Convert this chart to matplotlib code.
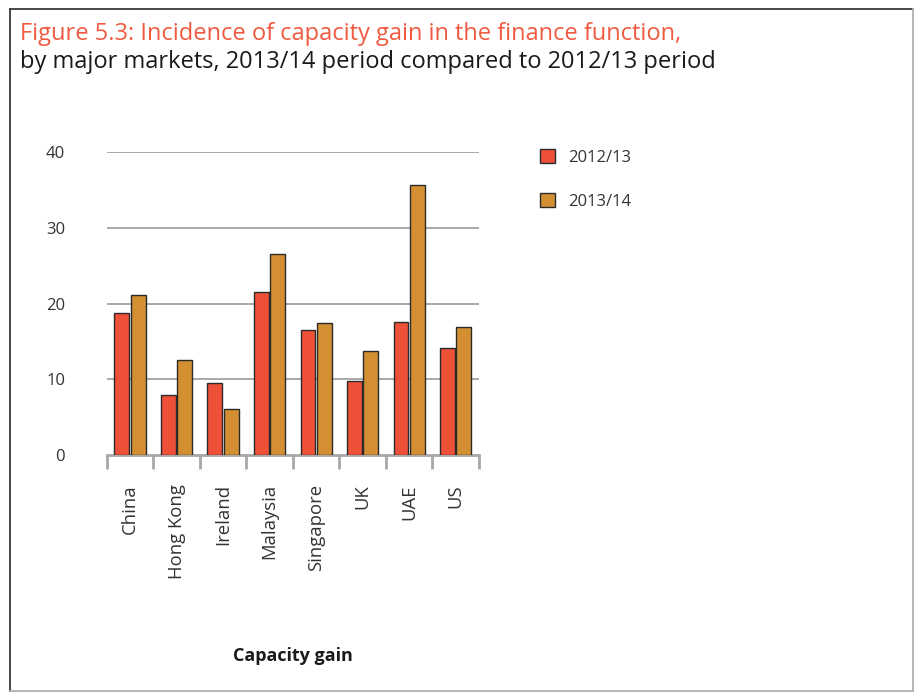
import matplotlib
matplotlib.use("Agg")
import matplotlib.pyplot as plt
import numpy as np
from matplotlib.lines import Line2D

plt.rcParams['font.family'] = ['Open Sans', 'DejaVu Sans']

markets = ["China", "Hong Kong", "Ireland", "Malaysia", "Singapore", "UK", "UAE", "US"]
gain_2012_13 = [18.75, 7.9, 9.45, 21.5, 16.45, 9.75, 17.55, 14.15]
gain_2013_14 = [21.1, 12.5, 6.1, 26.5, 17.4, 13.7, 35.6, 16.85]
series_labels = ["2012/13", "2013/14"]
y_ticks = [0, 10, 20, 30, 40]

red = "#EE5038"
orange = "#D48F33"
grid_grey = "#A8A8A8"
text_dark = "#333333"

W, H = 914, 692
fig = plt.figure(figsize=(W / 100, H / 100), dpi=100)


def fx(px):
    return px / W


def fy(py):
    return 1 - py / H


# outer frame: darker on top/left, lighter on right/bottom
fig.add_artist(Line2D([fx(10), fx(10)], [fy(9), fy(691)], transform=fig.transFigure,
                      color="#3a3a3a", linewidth=1.3))
fig.add_artist(Line2D([fx(10), fx(913)], [fy(9), fy(9)], transform=fig.transFigure,
                      color="#3a3a3a", linewidth=1.3))
fig.add_artist(Line2D([fx(913), fx(913)], [fy(9), fy(691)], transform=fig.transFigure,
                      color="#b0b0b0", linewidth=1.3))
fig.add_artist(Line2D([fx(10), fx(913)], [fy(691), fy(691)], transform=fig.transFigure,
                      color="#b0b0b0", linewidth=1.3))

fig.text(fx(20), fy(34), "Figure 5.3: Incidence of capacity gain in the finance function,",
         color="#F05A40", fontsize=17, va="center", ha="left")
fig.text(fx(20), fy(62), "by major markets, 2013/14 period compared to 2012/13 period",
         color="#1a1a1a", fontsize=17, va="center", ha="left")

ax = fig.add_axes([fx(106.7), fy(455), (479 - 106.7) / W, (455 - 152) / H])

x = np.arange(len(markets))
w = 0.32
ax.bar(x - 0.175, gain_2012_13, width=w, color=red, edgecolor="#2a2a2a", linewidth=1.0,
       label=series_labels[0], zorder=3)
ax.bar(x + 0.175, gain_2013_14, width=w, color=orange, edgecolor="#2a2a2a", linewidth=1.0,
       label=series_labels[1], zorder=3)

ax.set_xlim(-0.5, len(markets) - 0.5)
ax.set_ylim(0, 40)
ax.set_yticks(y_ticks)
ax.set_yticklabels([str(t) for t in y_ticks], color=text_dark, fontsize=12)
ax.tick_params(axis="y", length=0, pad=30)
for t in y_ticks[1:]:
    ax.axhline(t, color=grid_grey, linewidth=1.4, zorder=1)

ax.set_xticks(x)
ax.set_xticklabels(markets, rotation=90, color=text_dark, fontsize=13.3, va="top")
ax.set_xticks(np.arange(len(markets) + 1) - 0.5, minor=True)
ax.tick_params(axis="x", which="major", length=0, pad=21)
ax.tick_params(axis="x", which="minor", length=10, width=2, color=grid_grey, direction="out")

for side in ["top", "right", "left"]:
    ax.spines[side].set_visible(False)
ax.spines["bottom"].set_color(grid_grey)
ax.spines["bottom"].set_linewidth(2)

fig.text(fx(293), fy(656), "Capacity gain", fontsize=13, fontweight="bold",
         color="#1a1a1a", ha="center", va="center")

leg = fig.legend(loc="upper left", bbox_to_anchor=(fx(525), fy(134)),
                 frameon=False, fontsize=12, handlelength=0.9, handleheight=0.9,
                 labelspacing=1.65, handletextpad=0.8)
for txt in leg.get_texts():
    txt.set_color(text_dark)

fig.savefig("out.png", dpi=100)
